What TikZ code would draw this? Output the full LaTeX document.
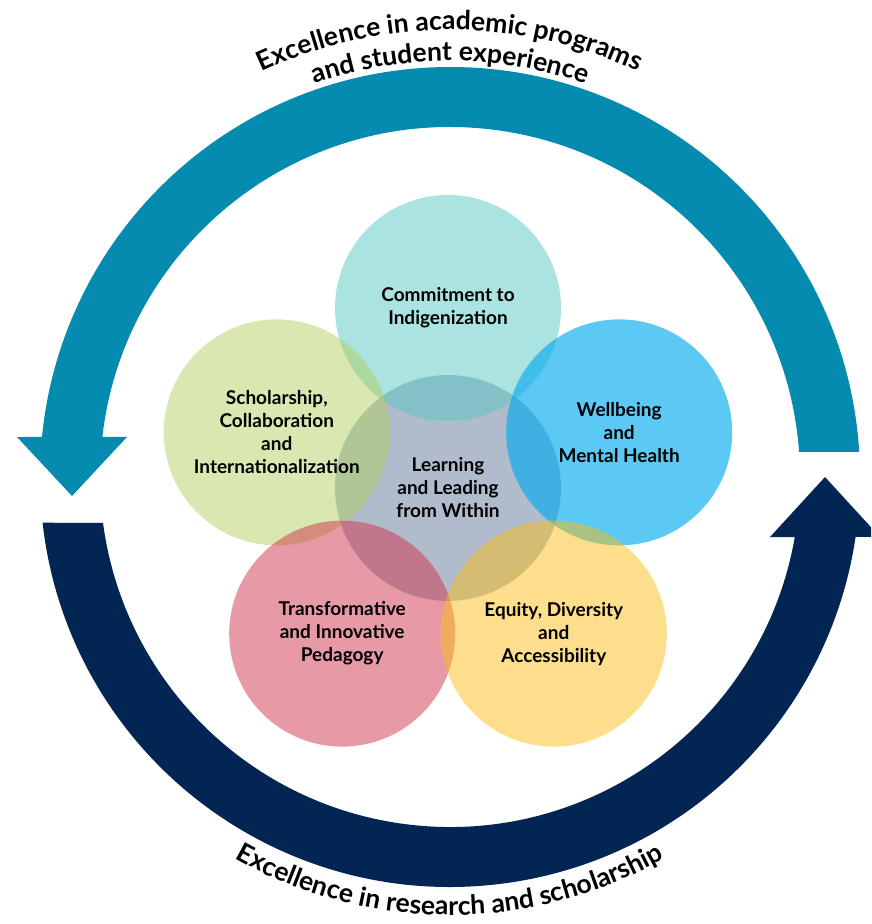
\documentclass[tikz,border=0pt]{standalone}
\usepackage{fontspec}
\setmainfont{Lato}
\usetikzlibrary{calc, decorations.text}
\definecolor{arc_teal}{RGB}{5,138,176}
\definecolor{arc_navy}{RGB}{2,37,84}
\definecolor{petal_aqua}{RGB}{85,199,193}
\definecolor{petal_green}{RGB}{177,209,97}
\definecolor{petal_blue}{RGB}{5,171,238}
\definecolor{petal_grey}{RGB}{176,188,204}
\definecolor{petal_pink}{RGB}{209,51,77}
\definecolor{petal_yellow}{RGB}{249,189,25}
\tikzset{
	petal/.style={circle, minimum size=226pt, inner sep=0pt, align=center, text opacity=1,
		font=\bfseries\fontsize{19}{23}\selectfont},
	curvetext/.style={decorate, decoration={text along path, text align=center,
		text={|\bfseries\fontsize{26.5}{26.5}\selectfont|#1}}}
}

\begin{document}
\begin{tikzpicture}[x=1pt,y=1pt,line join=round]
		\begin{scope}
		\clip (-450,-447) rectangle (421,477);
		\fill[arc_teal] (3.5:410pt) arc[start angle=3.5, end angle=174.4, radius=410pt]
			-- (-433,40) -- (-378,-19) -- (-323,40)
			-- (173.4:350pt) arc[start angle=173.4, end angle=4.1, radius=350pt] -- cycle;
		\fill[arc_navy] (186.4:410pt) arc[start angle=186.4, end angle=351.6, radius=410pt]
			-- (430,-60) -- (375,0) -- (320,-60)
			-- (350.1:350pt) arc[start angle=350.1, end angle=187.55, radius=350pt] -- cycle;
		\node[petal, fill=petal_grey] (hub) at (-2,-11) {Learning\\and Leading\\from Within};
		\foreach \name/\ang/\col/\op/\txt in {
			indig/90/petal_aqua/0.5/{Commitment to\\Indigenization},
			scholar/162/petal_green/0.5/{Scholarship,\\Collaboration\\and\\Internationalization},
			wellbeing/18/petal_blue/0.65/{Wellbeing\\and\\Mental Health},
			pedagogy/234/petal_pink/0.5/{Transformative\\and Innovative\\Pedagogy},
			equity/306/petal_yellow/0.5/{Equity, Diversity\\and\\Accessibility}}
		{
			\node[petal, fill=\col, fill opacity=\op] (\name) at ($(hub.center)+(\ang:180)$) {\txt};
		}
		\path[curvetext={Excellence in academic programs}]
			(160:447pt) arc[start angle=160, end angle=20, radius=447pt];
		\path[curvetext={and student experience}]
			(160:416pt) arc[start angle=160, end angle=20, radius=416pt];
		\path[curvetext={Excellence in research and scholarship}]
			(200:438pt) arc[start angle=200, end angle=340, radius=438pt];
		\end{scope}
		\pgfresetboundingbox
		\useasboundingbox (-450,-447) rectangle (421,477);
\end{tikzpicture}
\end{document}
